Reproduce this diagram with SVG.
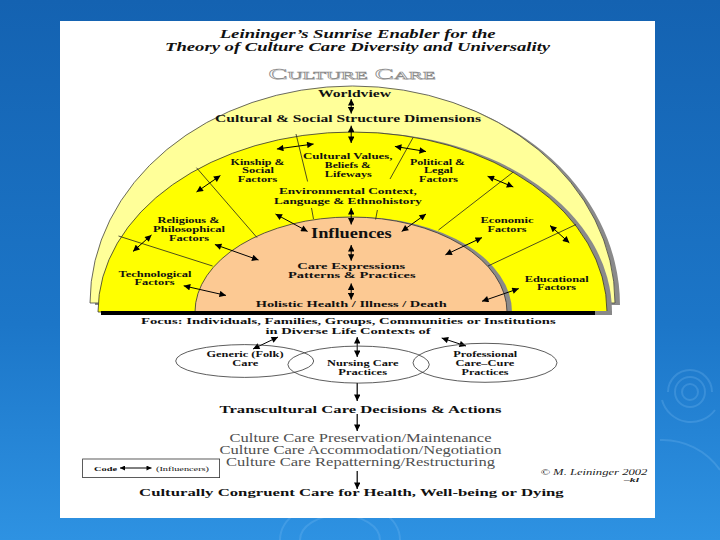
<svg xmlns="http://www.w3.org/2000/svg" width="720" height="540" viewBox="0 0 720 540">
<defs>
<linearGradient id="bg" x1="0" y1="0" x2="0" y2="1">
<stop offset="0" stop-color="#1462b1"/>
<stop offset="0.6" stop-color="#1c76c8"/>
<stop offset="1" stop-color="#2e92e2"/>
</linearGradient>
<marker id="ah" viewBox="0 0 10 10" refX="10" refY="5" markerWidth="7.5" markerHeight="6.5" markerUnits="userSpaceOnUse" orient="auto-start-reverse">
<path d="M0,0 L10,5 L0,10 z" fill="#000"/>
</marker>
<marker id="ahs" viewBox="0 0 10 10" refX="10" refY="5" markerWidth="6" markerHeight="5" markerUnits="userSpaceOnUse" orient="auto-start-reverse">
<path d="M0,0 L10,5 L0,10 z" fill="#000"/>
</marker>
</defs>
<style>
.lbl{font-family:"Liberation Serif","Times New Roman",serif;font-weight:bold;fill:#111;text-anchor:middle}
.f9{font-size:9px}
.f10{font-size:10.5px}
.ttl{font-family:"Liberation Serif","Times New Roman",serif;font-weight:bold;font-style:italic;font-size:13px;fill:#111;text-anchor:middle}
.cc{font-family:"Liberation Serif","Times New Roman",serif;font-size:11.5px;fill:#505050;text-anchor:middle}
.ln{stroke:#222;stroke-width:0.8;fill:none}
.ar{stroke:#000;stroke-width:1;fill:none;marker-start:url(#ah);marker-end:url(#ah)}
.ad{stroke:#000;stroke-width:1.2;fill:none;marker-end:url(#ah)}
.sw{fill:none;stroke:#7fc0f5;stroke-opacity:0.25;stroke-width:2}
.hd{font-family:"Liberation Serif","Times New Roman",serif;font-size:15px;text-anchor:middle}
</style>
<rect x="0" y="0" width="720" height="540" fill="url(#bg)"/>
<g id="swirls">
<circle class="sw" cx="690" cy="392" r="8"/>
<circle class="sw" cx="690" cy="392" r="15"/>
<path class="sw" d="M668,392 A22,22 0 0 1 712,392"/>
<path class="sw" d="M662,400 A30,30 0 0 0 715,410"/>
<path class="sw" d="M660,440 A70,70 0 0 1 720,470"/>
<path class="sw" d="M280,540 A60,40 0 0 1 400,540"/>
<path class="sw" d="M300,540 A40,25 0 0 1 380,540"/>
</g>
<rect id="panel" x="60" y="21" width="595" height="497" fill="#fff"/>

<g id="title">
<text class="ttl" x="357.7" y="37.5" textLength="276" lengthAdjust="spacingAndGlyphs">Leininger’s Sunrise Enabler for the</text>
<text class="ttl" x="357.6" y="51" textLength="385" lengthAdjust="spacingAndGlyphs">Theory of Culture Care Diversity and Universality</text>
</g>
<g id="culture-care-heading">
<text class="hd" x="353" y="79.5" fill="#ccc" textLength="167" lengthAdjust="spacingAndGlyphs">C<tspan font-size="11">ULTURE</tspan> C<tspan font-size="11">ARE</tspan></text>
<text class="hd" x="352" y="78.5" fill="#fff" stroke="#888" stroke-width="0.5" textLength="167" lengthAdjust="spacingAndGlyphs">C<tspan font-size="11">ULTURE</tspan> C<tspan font-size="11">ARE</tspan></text>
</g>

<g id="sunrise">
<path d="M95,305 A262.5,217 0 0 1 620,305 Z" fill="#8a8a8a"/>
<path id="outer-band" d="M90,303 A262.5,217 0 0 1 615,303 Z" fill="#ffff99" stroke="#444" stroke-width="0.8"/>
<path d="M103,312 A254.5,180 0 0 1 612,312 Z" fill="#8a8a8a"/>
<path id="middle-band" d="M98,312 A254.5,180 0 0 1 607,312 Z" fill="#ffff00" stroke="#333" stroke-width="0.8"/>
<path d="M200,312 A156,95 0 0 1 512,312 Z" fill="#8a8a8a"/>
<path id="inner-core" d="M195,312 A156,95 0 0 1 507,312 Z" fill="#fcc993" stroke="#333" stroke-width="0.8"/>
<rect x="595" y="311" width="17" height="4" fill="#888"/>
<rect x="101" y="311" width="494" height="4" fill="#000"/>
</g>

<g id="dividers">
<line class="ln" x1="118.5" y1="236" x2="212.6" y2="266"/>
<line class="ln" x1="196.5" y1="167.7" x2="257" y2="237.6"/>
<line class="ln" x1="296" y1="134" x2="307.6" y2="181.5"/>
<line class="ln" x1="311.5" y1="208" x2="313.5" y2="219"/>
<line class="ln" x1="413" y1="137.7" x2="390" y2="179"/>
<line class="ln" x1="377.4" y1="210" x2="375.6" y2="219.5"/>
<line class="ln" x1="513.3" y1="172" x2="438.5" y2="230"/>
<line class="ln" x1="576" y1="224.5" x2="488" y2="266"/>
</g>

<g id="connectors">
<line class="ar" x1="351.2" y1="99" x2="351.2" y2="113.6"/>
<line class="ar" x1="351.2" y1="125.7" x2="351.2" y2="143"/>
<line class="ar" x1="276.9" y1="149" x2="313.6" y2="144"/>
<line class="ar" x1="394.9" y1="146.4" x2="426" y2="151.5"/>
<line class="ar" x1="196.5" y1="192" x2="220.4" y2="175.6"/>
<line class="ar" x1="133" y1="251.4" x2="151.5" y2="235"/>
<line class="ar" x1="214.9" y1="244.5" x2="258.5" y2="260"/>
<line class="ar" x1="275.5" y1="214" x2="307.6" y2="231.4"/>
<line class="ar" x1="351.2" y1="208" x2="351.2" y2="224.5"/>
<line class="ar" x1="426" y1="214" x2="401.7" y2="231.4"/>
<line class="ar" x1="487.6" y1="176.3" x2="513.3" y2="187"/>
<line class="ar" x1="482" y1="237.6" x2="445.4" y2="254.8"/>
<line class="ar" x1="550" y1="225.5" x2="569.3" y2="242.8"/>
<line class="ar" x1="518.8" y1="288.6" x2="482" y2="301.3"/>
<line class="ar" x1="183.7" y1="285.8" x2="226" y2="295.4"/>
<line class="ar" x1="351.2" y1="245" x2="351.2" y2="260.7"/>
<line class="ar" x1="351.2" y1="283.4" x2="351.2" y2="299.6"/>
<line class="ar" x1="278" y1="337" x2="253" y2="349"/>
<line class="ar" x1="357.2" y1="337" x2="357.2" y2="357"/>
<line class="ar" x1="441.7" y1="338" x2="466" y2="346"/>
<line class="ad" x1="357.2" y1="383" x2="357.2" y2="401"/>
<line class="ad" x1="357.2" y1="414" x2="357.2" y2="431"/>
<line class="ad" x1="357.2" y1="471" x2="357.2" y2="489"/>
</g>

<g id="worldview"><text class="lbl f10" x="354.5" y="96.5" textLength="73" lengthAdjust="spacingAndGlyphs">Worldview</text></g>
<g id="cultural-social"><text class="lbl f10" x="348" y="122" textLength="266" lengthAdjust="spacingAndGlyphs">Cultural &amp; Social Structure Dimensions</text></g>
<g id="kinship">
<text class="lbl f9" x="257.6" y="164.5" textLength="54" lengthAdjust="spacingAndGlyphs">Kinship &amp;</text>
<text class="lbl f9" x="258" y="173" textLength="32" lengthAdjust="spacingAndGlyphs">Social</text>
<text class="lbl f9" x="257.5" y="182" textLength="39.5" lengthAdjust="spacingAndGlyphs">Factors</text>
</g>
<g id="cultural-values">
<text class="lbl f9" x="347.8" y="159" textLength="89.5" lengthAdjust="spacingAndGlyphs">Cultural Values,</text>
<text class="lbl f9" x="347.8" y="168" textLength="46" lengthAdjust="spacingAndGlyphs">Beliefs &amp;</text>
<text class="lbl f9" x="348.3" y="176.5" textLength="47" lengthAdjust="spacingAndGlyphs">Lifeways</text>
</g>
<g id="political">
<text class="lbl f9" x="437.5" y="164.5" textLength="55" lengthAdjust="spacingAndGlyphs">Political &amp;</text>
<text class="lbl f9" x="438.5" y="173" textLength="29" lengthAdjust="spacingAndGlyphs">Legal</text>
<text class="lbl f9" x="438.5" y="182" textLength="39" lengthAdjust="spacingAndGlyphs">Factors</text>
</g>
<g id="environmental">
<text class="lbl f9" x="347.9" y="194" textLength="138" lengthAdjust="spacingAndGlyphs">Environmental Context,</text>
<text class="lbl f9" x="348" y="204" textLength="148" lengthAdjust="spacingAndGlyphs">Language &amp; Ethnohistory</text>
</g>
<g id="religious">
<text class="lbl f9" x="188.5" y="223" textLength="62" lengthAdjust="spacingAndGlyphs">Religious &amp;</text>
<text class="lbl f9" x="189" y="232" textLength="72" lengthAdjust="spacingAndGlyphs">Philosophical</text>
<text class="lbl f9" x="189" y="240.5" textLength="40" lengthAdjust="spacingAndGlyphs">Factors</text>
</g>
<g id="economic">
<text class="lbl f9" x="507" y="223" textLength="53" lengthAdjust="spacingAndGlyphs">Economic</text>
<text class="lbl f9" x="507" y="232" textLength="39" lengthAdjust="spacingAndGlyphs">Factors</text>
</g>
<g id="influences"><text class="lbl" font-size="14" x="351.3" y="238.3" textLength="80.6" lengthAdjust="spacingAndGlyphs">Influences</text></g>
<g id="care-expressions">
<text class="lbl f9" x="351.2" y="268.5" textLength="108" lengthAdjust="spacingAndGlyphs">Care Expressions</text>
<text class="lbl f9" x="351.8" y="278" textLength="127.6" lengthAdjust="spacingAndGlyphs">Patterns &amp; Practices</text>
</g>
<g id="technological">
<text class="lbl f9" x="155" y="276.5" textLength="73" lengthAdjust="spacingAndGlyphs">Technological</text>
<text class="lbl f9" x="154.5" y="285" textLength="40" lengthAdjust="spacingAndGlyphs">Factors</text>
</g>
<g id="educational">
<text class="lbl f9" x="556.7" y="281.5" textLength="64" lengthAdjust="spacingAndGlyphs">Educational</text>
<text class="lbl f9" x="556.5" y="290" textLength="39" lengthAdjust="spacingAndGlyphs">Factors</text>
</g>
<g id="holistic"><text class="lbl f9" x="351.2" y="306.5" textLength="191" lengthAdjust="spacingAndGlyphs">Holistic Health / Illness / Death</text></g>
<g id="focus">
<text class="lbl f9" x="348.3" y="324.4" textLength="414.6" lengthAdjust="spacingAndGlyphs">Focus:  Individuals, Families, Groups, Communities or Institutions</text>
<text class="lbl f9" x="348" y="334" textLength="165" lengthAdjust="spacingAndGlyphs">in Diverse Life Contexts of</text>
</g>
<g id="generic-care">
<ellipse cx="244.7" cy="361" rx="69" ry="16.4" fill="none" stroke="#333" stroke-width="0.8"/>
<text class="lbl f9" x="245" y="357" textLength="77" lengthAdjust="spacingAndGlyphs">Generic (Folk)</text>
<text class="lbl f9" x="245.3" y="365.5" textLength="26" lengthAdjust="spacingAndGlyphs">Care</text>
</g>
<g id="nursing-care">
<ellipse cx="358.6" cy="364.6" rx="70.7" ry="18.5" fill="none" stroke="#333" stroke-width="0.8"/>
<text class="lbl f9" x="362.8" y="365.7" textLength="71.6" lengthAdjust="spacingAndGlyphs">Nursing Care</text>
<text class="lbl f9" x="362.7" y="374.6" textLength="48.7" lengthAdjust="spacingAndGlyphs">Practices</text>
</g>
<g id="professional-care">
<ellipse cx="485" cy="362.8" rx="72" ry="19.5" fill="none" stroke="#333" stroke-width="0.8"/>
<text class="lbl f9" x="485.3" y="357.4" textLength="64" lengthAdjust="spacingAndGlyphs">Professional</text>
<text class="lbl f9" x="484.8" y="366.4" textLength="58.8" lengthAdjust="spacingAndGlyphs">Care–Cure</text>
<text class="lbl f9" x="485" y="375.3" textLength="47" lengthAdjust="spacingAndGlyphs">Practices</text>
</g>
<g id="transcultural"><text class="lbl f10" x="360.6" y="412.5" textLength="282" lengthAdjust="spacingAndGlyphs">Transcultural Care Decisions &amp; Actions</text></g>
<g id="care-modes">
<text class="cc" x="360.5" y="441.8" textLength="262" lengthAdjust="spacingAndGlyphs">Culture Care Preservation/Maintenance</text>
<text class="cc" x="360.5" y="453.8" textLength="282" lengthAdjust="spacingAndGlyphs">Culture Care Accommodation/Negotiation</text>
<text class="cc" x="360.5" y="466" textLength="269" lengthAdjust="spacingAndGlyphs">Culture Care Repatterning/Restructuring</text>
</g>
<g id="code-legend">
<rect x="82.6" y="459" width="137" height="18.6" fill="#fff" stroke="#333" stroke-width="0.8"/>
<text x="94" y="470.5" font-family="Liberation Serif, Times New Roman, serif" font-weight="bold" font-size="7" fill="#111" textLength="23" lengthAdjust="spacingAndGlyphs">Code</text>
<line x1="120" y1="468" x2="151.5" y2="468" stroke="#000" stroke-width="1" marker-start="url(#ahs)" marker-end="url(#ahs)"/>
<text x="156" y="470.5" font-family="Liberation Serif, Times New Roman, serif" font-size="7" fill="#111" textLength="53" lengthAdjust="spacingAndGlyphs">(Influencers)</text>
</g>
<g id="copyright">
<text x="540.4" y="474.5" font-family="Liberation Serif, Times New Roman, serif" font-style="italic" font-size="8.5" fill="#222" textLength="107" lengthAdjust="spacingAndGlyphs">© M. Leininger 2002</text>
<text x="624" y="481.5" font-family="Liberation Serif, Times New Roman, serif" font-style="italic" font-weight="bold" font-size="6" fill="#222" textLength="15" lengthAdjust="spacingAndGlyphs">–kl</text>
</g>
<g id="congruent-care"><text class="lbl f10" x="351.4" y="496" textLength="424.7" lengthAdjust="spacingAndGlyphs">Culturally Congruent Care for Health, Well-being or Dying</text></g>
</svg>
